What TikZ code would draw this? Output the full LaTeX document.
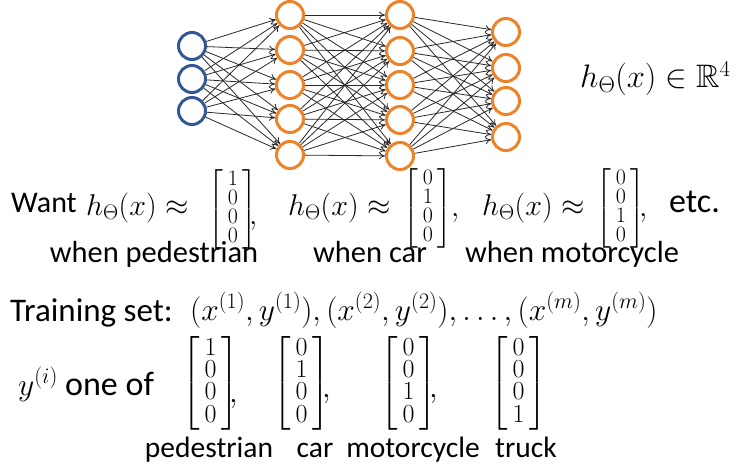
\RequirePackage{fix-cm}
\documentclass[tikz,border=0pt]{standalone}
\usepackage{amsmath,amssymb}
\usepackage{fontspec}
\setmainfont{Carlito}
\usetikzlibrary{arrows.meta}
\definecolor{nblue}{RGB}{52,88,150}
\definecolor{norange}{RGB}{237,130,40}
\definecolor{edgec}{RGB}{40,40,40}
\newcommand{\bigtxt}{\fontsize{34}{40}\selectfont}
\newcommand{\wanttxt}{\fontsize{30}{36}\selectfont}
\newcommand{\tstxt}{\fontsize{33}{40}\selectfont}
\newcommand{\lbltxt}{\fontsize{30.5}{36}\selectfont}
\newcommand{\botlbl}{\fontsize{29.5}{36}\selectfont}
\newcommand{\wantmath}{\fontsize{30}{36}\selectfont}
\newcommand{\midmath}{\fontsize{31.5}{36}\selectfont}
\newcommand{\hrmath}{\fontsize{32.5}{40}\selectfont}
\newcommand{\smallmat}[4]{{\fontsize{22}{16}\selectfont$\left[\begin{array}{c}#1\\#2\\#3\\#4\end{array}\right]$}}
\newcommand{\bigmat}[4]{{\fontsize{26}{18.5}\selectfont$\left[\begin{array}{c}#1\\#2\\#3\\#4\end{array}\right]$}}
\tikzset{
  neuron/.style={circle, minimum size=27pt, inner sep=0pt, line width=3pt},
  inn/.style={neuron, draw=nblue},
  hid/.style={neuron, draw=norange},
  conn/.style={draw=edgec, line width=0.8pt, -{To[length=6pt,width=7pt]}},
  txt/.style={inner sep=0pt, anchor=base west, font=\bigtxt},
  wm/.style={inner sep=0pt, anchor=base west, font=\wantmath},
  mm/.style={inner sep=0pt, anchor=base west, font=\midmath},
  lbl/.style={inner sep=0pt, anchor=base, font=\lbltxt},
  blbl/.style={inner sep=0pt, anchor=base, font=\botlbl},
  mat/.style={inner sep=0pt, anchor=west},
}
\begin{document}
\begin{tikzpicture}[x=1pt,y=-1pt]
\useasboundingbox (0,0) rectangle (738,465);
% network
\foreach \i/\yy in {1/46,2/79,3/111} \node[inn] (i\i) at (192,\yy) {};
\foreach \i/\yy in {1/15,2/50,3/85,4/119,5/155} \node[hid] (a\i) at (290,\yy) {};
\foreach \i/\yy in {1/15,2/51,3/85,4/120,5/156} \node[hid] (b\i) at (400,\yy) {};
\foreach \i/\yy in {1/32,2/68,3/101,4/137} \node[hid] (o\i) at (506,\yy) {};
\foreach \s in {1,2,3} \foreach \t in {1,...,5} \draw[conn] (i\s) -- (a\t);
\foreach \s in {1,...,5} \foreach \t in {1,...,5} \draw[conn] (a\s) -- (b\t);
\foreach \s in {1,...,5} \foreach \t in {1,...,4} \draw[conn] (b\s) -- (o\t);
\node[mm, font=\hrmath] (hr) at (580,88) {$h_\Theta(x)\in\mathbb{R}^4$};
% want row
\node[txt, font=\wanttxt] (want) at (11,212) {Want};
\node[wm] (h1) at (86,215) {$h_\Theta(x)\approx$};
\node[mat] (m1) at (208,209.5) {\smallmat1000};
\node[wm] (c1) at (249,224) {$,$};
\node[wm] (h2) at (288,215) {$h_\Theta(x)\approx$};
\node[mat] (m2) at (403,208.5) {\smallmat0100};
\node[wm] (c2) at (451,216) {$,$};
\node[wm] (h3) at (482,215) {$h_\Theta(x)\approx$};
\node[mat] (m3) at (596,208.5) {\smallmat0010};
\node[wm] (c3) at (639,216) {$,$};
\node[txt] (etc) at (669,212) {etc.};
\node[lbl] (l1) at (154,262) {when pedestrian};
\node[lbl] (l2) at (370,262) {when car};
\node[lbl] (l3) at (572,262) {when motorcycle};
% training set
\node[txt, font=\tstxt] (ts) at (10,321) {Training set:};
\node[mm] (tsm) at (190,320) {$(x^{(1)},y^{(1)}),(x^{(2)},y^{(2)}),\ldots,(x^{(m)},y^{(m)})$};
% y row
\node[mm] (yi) at (18,395) {$y^{(i)}$};
\node[txt] (oneof) at (65,395) {one of};
\node[mat] (y1) at (182,383) {\bigmat1000};
\node[mm] (d1) at (229,402) {$,$};
\node[mat] (y2) at (273,383) {\bigmat0100};
\node[mm] (d2) at (322,397) {$,$};
\node[mat] (y3) at (380,383) {\bigmat0010};
\node[mm] (d3) at (429,397) {$,$};
\node[mat] (y4) at (490,383) {\bigmat0001};
\node[blbl] (p1) at (209,457) {pedestrian};
\node[blbl] (p2) at (315,457) {car};
\node[blbl] (p3) at (413,457) {motorcycle};
\node[blbl] (p4) at (526,457) {truck};
\end{tikzpicture}
\end{document}
